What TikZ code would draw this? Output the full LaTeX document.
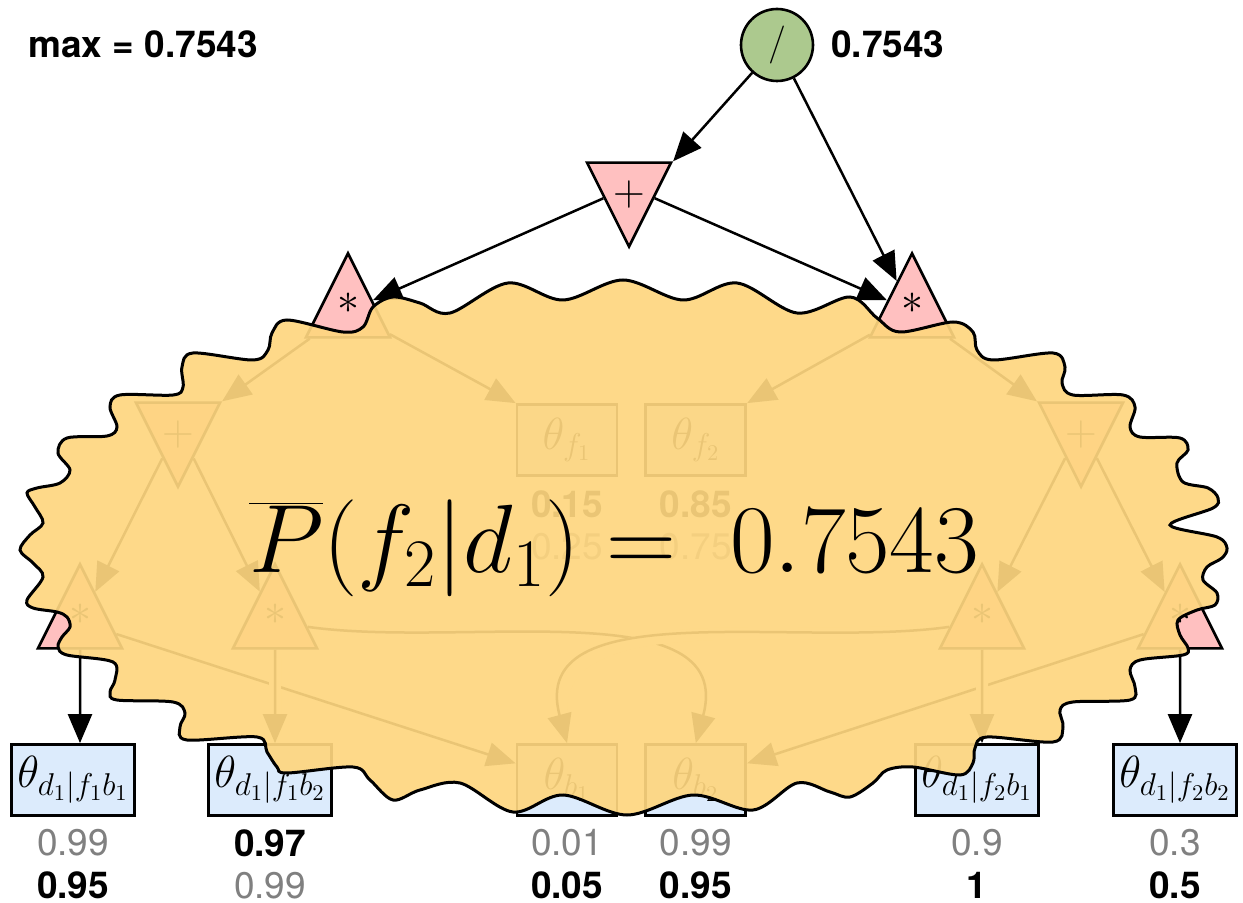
\documentclass[tikz,border=0pt]{standalone}
\usepackage{fix-cm}
\usepackage{fontspec}
\setsansfont{TeX Gyre Heros}
\usepackage{tikz}
\usetikzlibrary{shapes.geometric, arrows.meta, positioning}
\definecolor{opgreen}{RGB}{172,201,142}
\definecolor{oppink}{RGB}{255,192,192}
\definecolor{parblue}{RGB}{220,235,252}
\definecolor{blobyellow}{RGB}{254,214,127}
\definecolor{oldgray}{RGB}{128,128,128}

\begin{document}
\begin{tikzpicture}[
  x=0.5pt, y=-0.5pt,
  op/.style={isosceles triangle, isosceles triangle stretches, draw=black, fill=oppink, line width=1.3pt, minimum width=42pt, minimum height=42pt, inner sep=0pt, font=\fontsize{22}{26}\selectfont},
  mul/.style={op, shape border rotate=90, text depth=8pt},
  add/.style={op, shape border rotate=270, text height=20pt},
  div/.style={circle, draw=black, fill=opgreen, line width=1.3pt, minimum size=36pt, inner sep=0pt, font=\fontsize{19}{22}\selectfont},
  par/.style={rectangle, draw=black, fill=parblue, line width=1.4pt, minimum width=50pt, minimum height=35.5pt, inner sep=3pt, font=\fontsize{22.5}{27}\selectfont},
  vals/.style={inner sep=0pt, font=\fontsize{18.5}{21}\selectfont\sffamily},
  newv/.style={vals, font=\fontsize{18.5}{21}\selectfont\sffamily\bfseries},
  oldv/.style={vals, text=oldgray},
  arrow/.style={-{Triangle[length=14.5pt, width=12pt]}, line width=1.25pt},
  cross/.style={arrow, preaction={draw=white, line width=6pt, arrows=-, shorten <=4pt, shorten >=4pt}},
  blob/.style={draw=black, line width=1.5pt, fill=blobyellow, fill opacity=0.92}
]
\useasboundingbox (0,0) rectangle (1243,903);

% Root
\node[div] (root) at (777,45) {$/$};
\node[newv, anchor=west] (rootval) at (831,44) {0.7543};
\node[newv, anchor=west] (maxval) at (28,44) {max = 0.7543};

% Upper layer
\node[add, anchor=apex] (add) at (629,250) {$+$};
\node[mul, anchor=apex] (lmul) at (348,250) {$*$};
\node[mul, anchor=apex] (rmul) at (912,250) {$*$};

% Middle layer
\node[add, anchor=apex] (ladd) at (178,490) {$+$};
\node[add, anchor=apex] (radd) at (1081,490) {$+$};
\node[par] (thf1) at (567,440) {$\theta_{f_1}$};
\node[par, right=13pt of thf1] (thf2) {$\theta_{f_2}$};
\node[newv, below=6.5pt of thf1] (thf1new) {0.15};
\node[oldv, below=7.6pt of thf1new] (thf1old) {0.25};
\node[newv, below=6.5pt of thf2] (thf2new) {0.85};
\node[oldv, below=7.6pt of thf2new] (thf2old) {0.75};

% Lower layer
\node[mul, anchor=apex] (mA) at (80,561) {$*$};
\node[mul, anchor=apex] (mB) at (275,561) {$*$};
\node[mul, anchor=apex] (mC) at (982,561) {$*$};
\node[mul, anchor=apex] (mD) at (1180,561) {$*$};

% Parameters
\node[par] (thA) at (73,780) {$\theta_{d_1|f_1b_1}$};
\node[par] (thB) at (270,780) {$\theta_{d_1|f_1b_2}$};
\node[par] (thb1) at (567,780) {$\theta_{b_1}$};
\node[par, right=13pt of thb1] (thb2) {$\theta_{b_2}$};
\node[par] (thC) at (977,780) {$\theta_{d_1|f_2b_1}$};
\node[par] (thD) at (1175,780) {$\theta_{d_1|f_2b_2}$};

\node[oldv, below=6.2pt of thA] (thAold) {0.99};
\node[newv, below=7.3pt of thAold] (thAnew) {0.95};
\node[newv, below=6.2pt of thB] (thBnew) {0.97};
\node[oldv, below=7.3pt of thBnew] (thBold) {0.99};
\node[oldv, below=6.2pt of thb1] (thb1old) {0.01};
\node[newv, below=7.3pt of thb1old] (thb1new) {0.05};
\node[oldv, below=6.2pt of thb2] (thb2old) {0.99};
\node[newv, below=7.3pt of thb2old] (thb2new) {0.95};
\node[oldv, below=6.2pt of thC] (thCold) {0.9};
\node[newv, below=7.3pt of thCold] (thCnew) {1};
\node[oldv, below=6.2pt of thD] (thDold) {0.3};
\node[newv, below=7.3pt of thDold] (thDnew) {0.5};

% Arrows
\draw[arrow] (root) -- (add.left corner);
\draw[arrow] (root) -- (rmul);
\draw[arrow] (add) -- (lmul);
\draw[arrow] (add) -- (rmul);
\draw[arrow] (lmul) -- (ladd.left corner);
\draw[arrow] (lmul) -- (thf1.north west);
\draw[arrow] (rmul) -- (radd.right corner);
\draw[arrow] (rmul) -- (thf2.north east);
\draw[arrow] (ladd) -- (mA);
\draw[arrow] (ladd) -- (mB);
\draw[arrow] (radd) -- (mC);
\draw[arrow] (radd) -- (mD);
\draw[arrow] (mA) -- (thb1);
\draw[arrow] (mD) -- (thb2);
\draw[arrow] (mB) to[out=-8, in=75] (thb2.north);
\draw[cross] (mC) to[out=188, in=105] (thb1.north);
\draw[cross] (mA) -- (mA |- thA.north);
\draw[cross] (mB) -- (mB |- thB.north);
\draw[cross] (mC) -- (mC |- thC.north);
\draw[cross] (mD) -- (mD |- thD.north);

% Overlay
\draw[blob] plot[smooth cycle, tension=0.55] coordinates {
  (287,320) (343,332) (363,327) (373,307) (393,297) (420,303) (450,313) (508,283)
  (563,300) (623,280) (683,300) (737,283) (797,313) (850,297) (877,318) (900,332)
  (953,322) (973,332) (977,350) (993,360) (1053,353) (1065,367) (1062,383) (1073,395)
  (1123,395) (1135,407) (1130,427) (1140,437) (1180,438) (1188,450) (1177,463) (1183,482)
  (1208,488) (1218,498) (1213,508) (1170,525) (1217,537) (1227,548) (1222,558) (1207,567)
  (1203,580) (1217,593) (1215,605) (1197,610) (1178,620) (1180,635) (1188,648) (1183,655)
  (1140,660) (1130,670) (1135,687) (1130,700) (1073,702) (1060,710) (1063,727) (1053,742)
  (987,737) (975,748) (973,763) (960,775) (913,767) (887,770) (873,783) (850,797)
  (830,792) (797,783) (753,810) (693,795) (627,815) (563,795) (513,812) (460,783)
  (420,790) (393,800) (370,780) (353,767) (287,773) (277,767) (267,752) (257,737)
  (187,740) (180,727) (185,713) (173,702) (117,700) (110,692) (115,680) (113,662)
  (67,655) (58,647) (62,637) (70,627) (67,617) (57,612) (33,608) (27,600)
  (43,577) (33,563) (20,550) (30,535) (43,523) (35,507) (27,493) (37,488)
  (60,483) (70,470) (58,453) (67,438) (107,436) (117,427) (110,407) (120,395)
  (173,395) (183,387) (182,367) (193,353) (253,360) (268,350) (272,333)};
\node[font=\fontsize{48.5}{58}\selectfont] (pbar) at (614,548) {$\overline{P}(f_2|d_1) =\; 0.7543$};

\end{tikzpicture}
\end{document}
